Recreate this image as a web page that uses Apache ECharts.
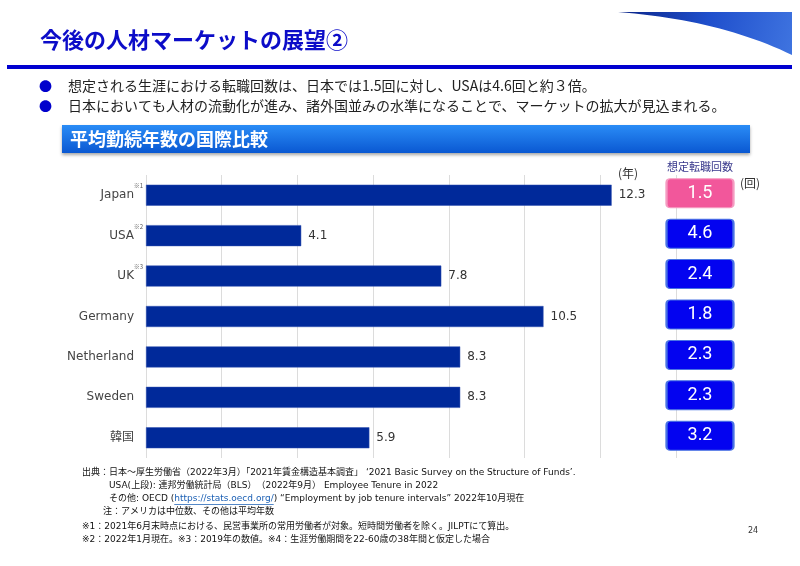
<!DOCTYPE html>
<html>
<head>
<meta charset="utf-8">
<script src="https://cdn.jsdelivr.net/npm/echarts@6/dist/echarts.min.js"></script>
<style>
html,body{margin:0;padding:0;background:#fff;}
#chart{width:800px;height:566px;}
</style>
</head>
<body>
<div id="chart"></div>
<script>
// ---- data ----
const categories = ['Japan', 'USA', 'UK', 'Germany', 'Netherland', 'Sweden', '韓国'];
const tenureYears = [12.3, 4.1, 7.8, 10.5, 8.3, 8.3, 5.9];
const turnoverCounts = [1.5, 4.6, 2.4, 1.8, 2.3, 2.3, 3.2];
const noteMarks = ['※1', '※2', '※3', '', '', '', ''];
const xMin = 0, xMax = 14, xInterval = 2;

const titleText = '今後の人材マーケットの展望②';
const bullets = [
  '想定される生涯における転職回数は、日本では1.5回に対し、USAは4.6回と約３倍。',
  '日本においても人材の流動化が進み、諸外国並みの水準になることで、マーケットの拡大が見込まれる。'
];
const sectionTitle = '平均勤続年数の国際比較';
const footnotes = [
  '出典：日本～厚生労働省（2022年3月）「2021年賃金構造基本調査」 ‘2021 Basic Survey on the Structure of Funds’.',
  'USA(上段): 連邦労働統計局（BLS）　（2022年9月） Employee Tenure in 2022',
  '注：アメリカは中位数、その他は平均年数',
  '※1：2021年6月末時点における、民営事業所の常用労働者が対象。短時間労働者を除く。JILPTにて算出。',
  '※2：2022年1月現在。※3：2019年の数値。※4：生涯労働期間を22-60歳の38年間と仮定した場合'
];
const otherSource = ['その他: OECD (', 'https://stats.oecd.org/', ') “Employment by job tenure intervals” 2022年10月現在'];

// ---- styles ----
const LATIN = "'DejaVu Sans', 'Noto Sans CJK JP', sans-serif";
const JP = "'Noto Sans CJK JP', sans-serif";
const BAR = '#00299a';
const noteFont = '9px ' + LATIN;
const BADGE_PATH = 'path://M4,0 H63 Q67,0 67,4 V25 Q67,29 63,29 H4 Q0,29 0,25 V4 Q0,0 4,0 Z';

function lin(x2, y2, stops) {
  return {type: 'linear', x: 0, y: 0, x2: x2, y2: y2, colorStops: stops};
}

// decorative swoosh outline (quadratic curve sampled)
const swoosh = [[618, 12], [792, 12], [792, 55]];
for (let k = 1; k < 24; k++) {
  const t = k / 24;
  const a = (1 - t) * (1 - t), b = 2 * t * (1 - t), c = t * t;
  swoosh.push([a * 792 + b * 720 + c * 618, a * 55 + b * 20 + c * 12]);
}

const measureCtx = document.createElement('canvas').getContext('2d');
function textW(txt, font) { measureCtx.font = font; return measureCtx.measureText(txt).width; }

const chart = echarts.init(document.getElementById('chart'), null, {renderer: 'canvas'});

const badgeData = turnoverCounts.map((v, i) => ({
  value: [0.5, categories[i], v],
  itemStyle: i === 0
    ? {color: '#f2579b', borderColor: '#f59bc1', borderWidth: 1.5, opacity: 1}
    : {color: '#0303f0', borderColor: '#4a74e4', borderWidth: 1.5, opacity: 1}
}));

const linkX = 109 + textW(otherSource[0], noteFont);
const linkW = textW(otherSource[1], noteFont);

const option = {
  animation: false,
  backgroundColor: '#ffffff',
  grid: [
    {left: 146, top: 175, width: 530, height: 283, containLabel: false},
    {left: 666, top: 175, width: 68, height: 283, containLabel: false}
  ],
  xAxis: [
    {
      type: 'value', gridIndex: 0, min: xMin, max: xMax, interval: xInterval,
      axisLine: {show: false}, axisTick: {show: false}, axisLabel: {show: false},
      splitLine: {show: true, lineStyle: {color: '#dcdcdc', width: 1}}
    },
    {
      type: 'value', gridIndex: 1, min: 0, max: 1, show: false,
      splitLine: {show: false}
    }
  ],
  yAxis: [
    {
      type: 'category', gridIndex: 0, data: categories, inverse: true,
      axisLine: {show: false}, axisTick: {show: false},
      splitLine: {show: false},
      axisLabel: {
        margin: 3,
        formatter: function (val) {
          const m = noteMarks[categories.indexOf(val)];
          return '{n|' + val + '}' + '{s|' + (m || ' ') + '}';
        },
        rich: {
          n: {fontSize: 12, fontFamily: LATIN, color: '#444444'},
          s: {fontSize: 6, fontFamily: JP, color: '#555555', padding: [0, 0, 18, 0], width: 9}
        }
      }
    },
    {
      type: 'category', gridIndex: 1, data: categories, inverse: true, show: false
    }
  ],
  series: [
    {
      type: 'bar', xAxisIndex: 0, yAxisIndex: 0,
      data: tenureYears,
      barWidth: 21,
      itemStyle: {color: BAR, borderColor: '#3050b0', borderWidth: 0.5},
      label: {
        show: true, position: 'right', distance: 7,
        fontSize: 12, fontFamily: LATIN, color: '#333333',
        formatter: p => p.value.toFixed(1)
      }
    },
    {
      type: 'scatter', xAxisIndex: 1, yAxisIndex: 1,
      data: badgeData,
      symbol: BADGE_PATH,
      symbolSize: [67, 29],
      symbolOffset: [0, -2],
      itemStyle: {opacity: 1},
      emphasis: {disabled: true},
      label: {
        show: true, position: 'inside',
        fontSize: 18, fontFamily: "Roboto, 'Noto Sans', sans-serif", color: '#ffffff',
        formatter: p => p.value[2].toFixed(1)
      },
      z: 5
    }
  ],
  graphic: [
    {
      type: 'polygon', shape: {points: swoosh},
      style: {fill: lin(1, 1, [{offset: 0, color: '#0a2488'}, {offset: 0.5, color: '#1f4fcc'}, {offset: 1, color: '#3f74e0'}])}
    },
    {type: 'text', x: 40, y: 40, style: {text: titleText, font: 'bold 22px ' + JP, fill: '#0c0cc8', textVerticalAlign: 'middle'}},
    {type: 'rect', shape: {x: 7, y: 65, width: 785, height: 4}, style: {fill: '#0000d0'}},
    {type: 'text', x: 39, y: 86, style: {text: '●', font: '13px ' + JP, fill: '#0000cc', textVerticalAlign: 'middle'}},
    {type: 'text', x: 68, y: 86, style: {text: bullets[0], font: '14px ' + JP, fill: '#222222', textVerticalAlign: 'middle'}},
    {type: 'text', x: 39, y: 106, style: {text: '●', font: '13px ' + JP, fill: '#0000cc', textVerticalAlign: 'middle'}},
    {type: 'text', x: 68, y: 106, style: {text: bullets[1], font: '14px ' + JP, fill: '#222222', textVerticalAlign: 'middle'}},
    {
      type: 'rect', shape: {x: 62, y: 125, width: 688, height: 28},
      style: {
        fill: lin(0, 1, [{offset: 0, color: '#2a8cf6'}, {offset: 1, color: '#0a58d2'}]),
        shadowBlur: 3, shadowColor: 'rgba(0,0,0,0.35)', shadowOffsetY: 2
      }
    },
    {type: 'text', x: 70, y: 139, style: {text: sectionTitle, font: 'bold 18px ' + JP, fill: '#ffffff', textVerticalAlign: 'middle'}},
    {type: 'text', x: 618, y: 173, style: {text: '(年)', font: '12px ' + JP, fill: '#333333', textVerticalAlign: 'middle'}},
    {type: 'text', x: 700, y: 167, style: {text: '想定転職回数', font: '11px ' + JP, fill: '#35358a', textAlign: 'center', textVerticalAlign: 'middle'}},
    {type: 'text', x: 740, y: 183, style: {text: '(回)', font: '12px ' + JP, fill: '#333333', textVerticalAlign: 'middle'}},
    {type: 'text', x: 82, y: 473, style: {text: footnotes[0], font: noteFont, fill: '#111111', textVerticalAlign: 'middle'}},
    {type: 'text', x: 109, y: 486, style: {text: footnotes[1], font: noteFont, fill: '#111111', textVerticalAlign: 'middle'}},
    {type: 'text', x: 109, y: 499, style: {text: otherSource[0], font: noteFont, fill: '#111111', textVerticalAlign: 'middle'}},
    {type: 'text', x: linkX, y: 499, style: {text: otherSource[1], font: noteFont, fill: '#1a5fb4', textVerticalAlign: 'middle'}},
    {type: 'rect', shape: {x: linkX, y: 504, width: linkW, height: 0.8}, style: {fill: '#1a5fb4'}},
    {type: 'text', x: linkX + linkW, y: 499, style: {text: otherSource[2], font: noteFont, fill: '#111111', textVerticalAlign: 'middle'}},
    {type: 'text', x: 103, y: 512, style: {text: footnotes[2], font: noteFont, fill: '#111111', textVerticalAlign: 'middle'}},
    {type: 'text', x: 82, y: 527, style: {text: footnotes[3], font: noteFont, fill: '#111111', textVerticalAlign: 'middle'}},
    {type: 'text', x: 82, y: 540, style: {text: footnotes[4], font: noteFont, fill: '#111111', textVerticalAlign: 'middle'}},
    {type: 'text', x: 748, y: 531, style: {text: '24', font: '8px ' + LATIN, fill: '#333333', textVerticalAlign: 'middle'}}
  ]
};

chart.setOption(option);
</script>
</body>
</html>
